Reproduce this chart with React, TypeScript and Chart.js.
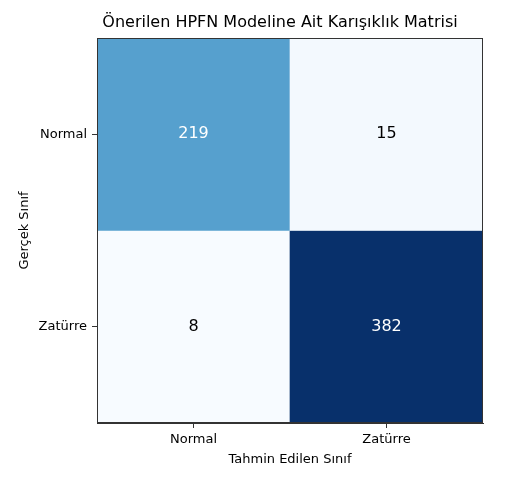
import React, { useEffect, useRef } from 'react';
import { Chart, registerables } from 'chart.js';

Chart.register(...registerables);

const TITLE = 'Önerilen HPFN Modeline Ait Karışıklık Matrisi';
const X_TITLE = 'Tahmin Edilen Sınıf';
const Y_TITLE = 'Gerçek Sınıf';
const PREDICTED = ['Normal', 'Zatürre'];
const ACTUAL = ['Normal', 'Zatürre'];
const ROW_NORMAL = [219, 15];
const ROW_ZATURRE = [8, 382];
const MATRIX = [ROW_NORMAL, ROW_ZATURRE];

const FONT = 'DejaVu Sans';

// matplotlib "Blues" colormap stops
const BLUES = ['#f7fbff', '#deebf7', '#c6dbef', '#9ecae1', '#6baed6', '#4292c6', '#2171b5', '#08519c', '#08306b'];

function hexToRgb(h: string) {
  return [parseInt(h.slice(1, 3), 16), parseInt(h.slice(3, 5), 16), parseInt(h.slice(5, 7), 16)];
}

function blues(t: number) {
  const c = Math.max(0, Math.min(1, t)) * (BLUES.length - 1);
  const i = Math.min(BLUES.length - 2, Math.floor(c));
  const f = c - i;
  const a = hexToRgb(BLUES[i]);
  const b = hexToRgb(BLUES[i + 1]);
  const m = a.map((v, k) => Math.round(v + (b[k] - v) * f));
  return `rgb(${m[0]},${m[1]},${m[2]})`;
}

const ALL = MATRIX.flat();
const VMIN = Math.min(...ALL);
const VMAX = Math.max(...ALL);
const THRESH = (VMIN + VMAX) / 2;

export default function App() {
  const ref = useRef<HTMLCanvasElement>(null);

  useEffect(() => {
    document.body.style.margin = '0';
    const canvas = ref.current;
    if (!canvas) return;

    const frameAndText = {
      id: 'frameAndText',
      afterDatasetsDraw(chart: any) {
        const ctx = chart.ctx;
        ctx.save();
        ctx.font = `16px "${FONT}"`;
        ctx.textAlign = 'center';
        ctx.textBaseline = 'middle';
        chart.data.datasets.forEach((ds: any, i: number) => {
          const meta = chart.getDatasetMeta(i);
          meta.data.forEach((el: any, j: number) => {
            const v = MATRIX[i][j];
            const cy = (el.y + el.base) / 2;
            ctx.fillStyle = v > THRESH ? '#ffffff' : '#000000';
            ctx.fillText(String(v), el.x, cy);
          });
        });
        ctx.restore();
      },
      afterDraw(chart: any) {
        const { ctx, chartArea: a } = chart;
        ctx.save();
        ctx.strokeStyle = '#333333';
        ctx.lineWidth = 1;
        ctx.strokeRect(Math.round(a.left) + 0.5, Math.round(a.top) + 0.5, Math.round(a.right - a.left) - 1, Math.round(a.bottom - a.top) - 1);
        ctx.font = `16px "${FONT}"`;
        ctx.fillStyle = '#000000';
        ctx.textAlign = 'center';
        ctx.textBaseline = 'middle';
        ctx.fillText(TITLE, (a.left + a.right) / 2 - 10, 23);
        ctx.restore();
      },
    };

    const chart = new Chart(canvas, {
      type: 'bar',
      data: {
        labels: PREDICTED,
        datasets: MATRIX.map((row, i) => ({
          label: ACTUAL[i],
          data: row.map(() => [i, i + 1]) as any,
          backgroundColor: row.map((v) => blues((v - VMIN) / (VMAX - VMIN))),
          borderWidth: 0,
          barPercentage: 1,
          categoryPercentage: 1,
          grouped: false,
        })),
      },
      options: {
        responsive: false,
        animation: false,
        layout: { padding: { top: 38, right: 34, left: 0, bottom: 0 } },
        plugins: {
          legend: { display: false },
          tooltip: { enabled: false },
          title: { display: false },
        },
        scales: {
          x: {
            type: 'category',
            offset: true,
            grid: { display: true, drawOnChartArea: false, drawTicks: true, tickLength: 5, tickColor: '#333333', offset: false },
            border: { display: true, color: '#333333' },
            ticks: { color: '#000000', font: { family: FONT, size: 13 }, padding: 4, maxRotation: 0 },
            title: { display: true, text: X_TITLE, color: '#000000', font: { family: FONT, size: 13 }, padding: { top: 0, bottom: 13 } },
            afterFit(s: any) { s.height = 57; },
          },
          y: {
            type: 'linear',
            min: 0,
            max: 2,
            reverse: true,
            afterBuildTicks(s: any) { s.ticks = ACTUAL.map((_, i) => ({ value: i + 0.5 })); },
            grid: { display: true, drawOnChartArea: false, drawTicks: true, tickLength: 5, tickColor: '#333333' },
            border: { display: true, color: '#333333' },
            ticks: {
              color: '#000000',
              font: { family: FONT, size: 13 },
              padding: 5,
              callback: (_v: any, idx: number) => ACTUAL[idx],
            },
            title: { display: true, text: Y_TITLE, color: '#000000', font: { family: FONT, size: 13 }, padding: { top: 17, bottom: 0 } },
            afterFit(s: any) { s.width = 97; },
          },
        },
      },
      plugins: [frameAndText],
    });

    return () => chart.destroy();
  }, []);

  return (
    <div style={{ width: 517, height: 480 }}>
      <canvas ref={ref} width={517} height={480} style={{ display: 'block' }} />
    </div>
  );
}
